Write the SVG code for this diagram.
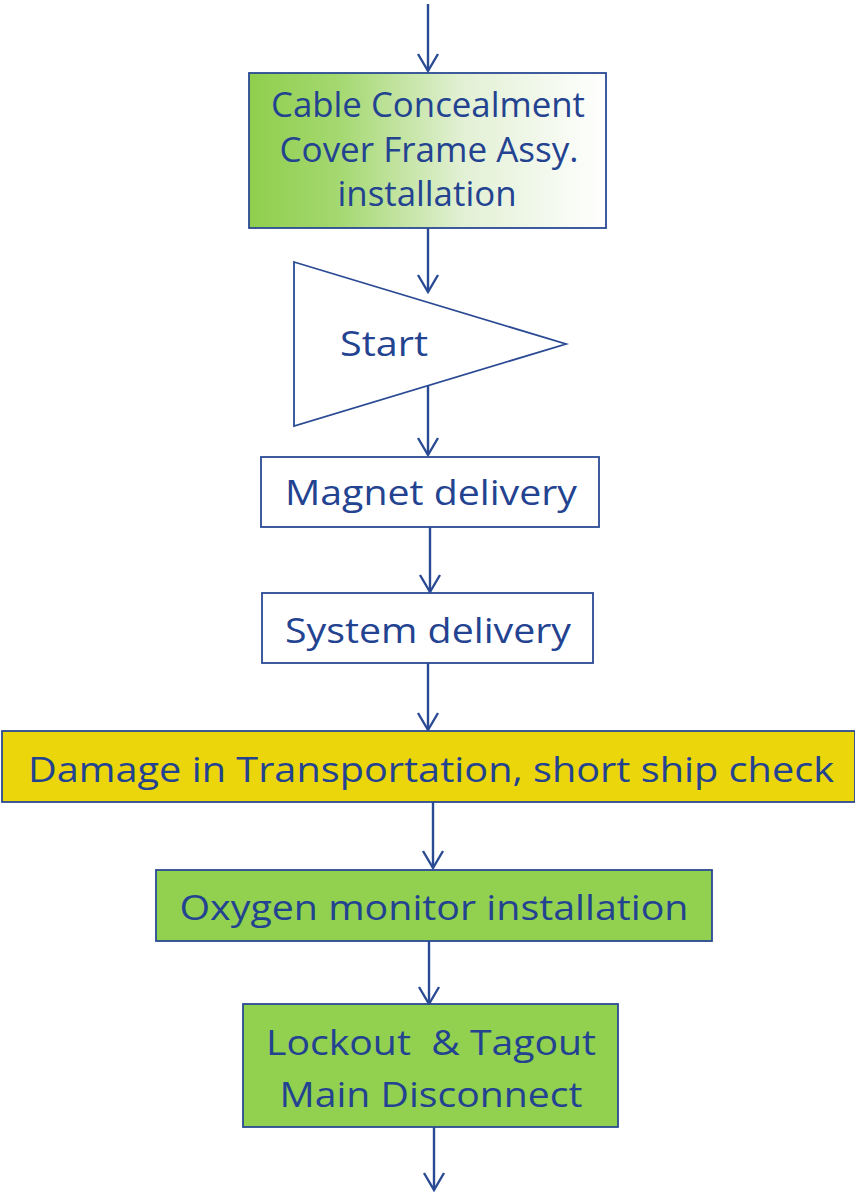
<svg xmlns="http://www.w3.org/2000/svg" width="855" height="1192" viewBox="0 0 855 1192">
<style>
.box{stroke:#2a4a94;stroke-width:1.8}
.t{font-family:"Open Sans","Liberation Sans",sans-serif;font-size:35px;fill:#234391;text-anchor:middle}
.c{stroke:#2a4a94;stroke-width:2.4;fill:none}
</style>
<defs>
<linearGradient id="g1" x1="0" y1="0" x2="1" y2="0">
<stop offset="0" stop-color="#8fcf4c"/>
<stop offset="0.25" stop-color="#a4d870"/>
<stop offset="0.6" stop-color="#e2f0d4"/>
<stop offset="1" stop-color="#ffffff"/>
</linearGradient>
<marker id="arr" markerWidth="24" markerHeight="24" refX="21" refY="12" orient="auto" markerUnits="userSpaceOnUse" viewBox="0 0 24 24">
<polyline points="4,2 21,12 4,22" fill="none" stroke="#2a4a94" stroke-width="2.4"/>
</marker>
</defs>
<g id="connectors">
<line class="c" x1="428" y1="4" x2="428" y2="71" marker-end="url(#arr)"/>
<line class="c" x1="428" y1="228" x2="428" y2="292" marker-end="url(#arr)"/>
<line class="c" x1="428" y1="386" x2="428" y2="455" marker-end="url(#arr)"/>
<line class="c" x1="430" y1="527" x2="430" y2="592" marker-end="url(#arr)"/>
<line class="c" x1="428" y1="663" x2="428" y2="730" marker-end="url(#arr)"/>
<line class="c" x1="433" y1="802" x2="433" y2="868" marker-end="url(#arr)"/>
<line class="c" x1="429" y1="941" x2="429" y2="1004" marker-end="url(#arr)"/>
<line class="c" x1="434" y1="1127" x2="434" y2="1190" marker-end="url(#arr)"/>
</g>
<g id="cable">
<rect class="box" x="249" y="73" width="357" height="155" fill="url(#g1)"/>
<text class="t" x="428" y="117" textLength="314" lengthAdjust="spacingAndGlyphs">Cable Concealment</text>
<text class="t" x="429" y="162" textLength="299" lengthAdjust="spacingAndGlyphs">Cover Frame Assy.</text>
<text class="t" x="427" y="206" textLength="179" lengthAdjust="spacingAndGlyphs">installation</text>
</g>
<g id="start">
<polygon class="box" points="294,262 566,344 294,426" fill="#ffffff" stroke-width="2"/>
<text class="t" x="384" y="356" textLength="88" lengthAdjust="spacingAndGlyphs">Start</text>
</g>
<g id="magnet">
<rect class="box" x="261" y="457" width="338" height="70" fill="#ffffff"/>
<text class="t" x="431" y="505" textLength="292" lengthAdjust="spacingAndGlyphs">Magnet delivery</text>
</g>
<g id="system">
<rect class="box" x="262" y="593" width="331" height="70" fill="#ffffff"/>
<text class="t" x="428" y="643" textLength="286" lengthAdjust="spacingAndGlyphs">System delivery</text>
</g>
<g id="damage">
<rect class="box" x="2" y="731" width="853" height="71" fill="#ebd60c"/>
<text class="t" x="431" y="782" textLength="806" lengthAdjust="spacingAndGlyphs">Damage in Transportation, short ship check</text>
</g>
<g id="oxygen">
<rect class="box" x="156" y="870" width="556" height="71" fill="#92d050"/>
<text class="t" x="434" y="920" textLength="509" lengthAdjust="spacingAndGlyphs">Oxygen monitor installation</text>
</g>
<g id="lockout">
<rect class="box" x="243" y="1004" width="375" height="123" fill="#92d050"/>
<text class="t" x="431" y="1055" textLength="330" lengthAdjust="spacingAndGlyphs" xml:space="preserve">Lockout  &amp; Tagout</text>
<text class="t" x="431" y="1107" textLength="303" lengthAdjust="spacingAndGlyphs">Main Disconnect</text>
</g>
</svg>
